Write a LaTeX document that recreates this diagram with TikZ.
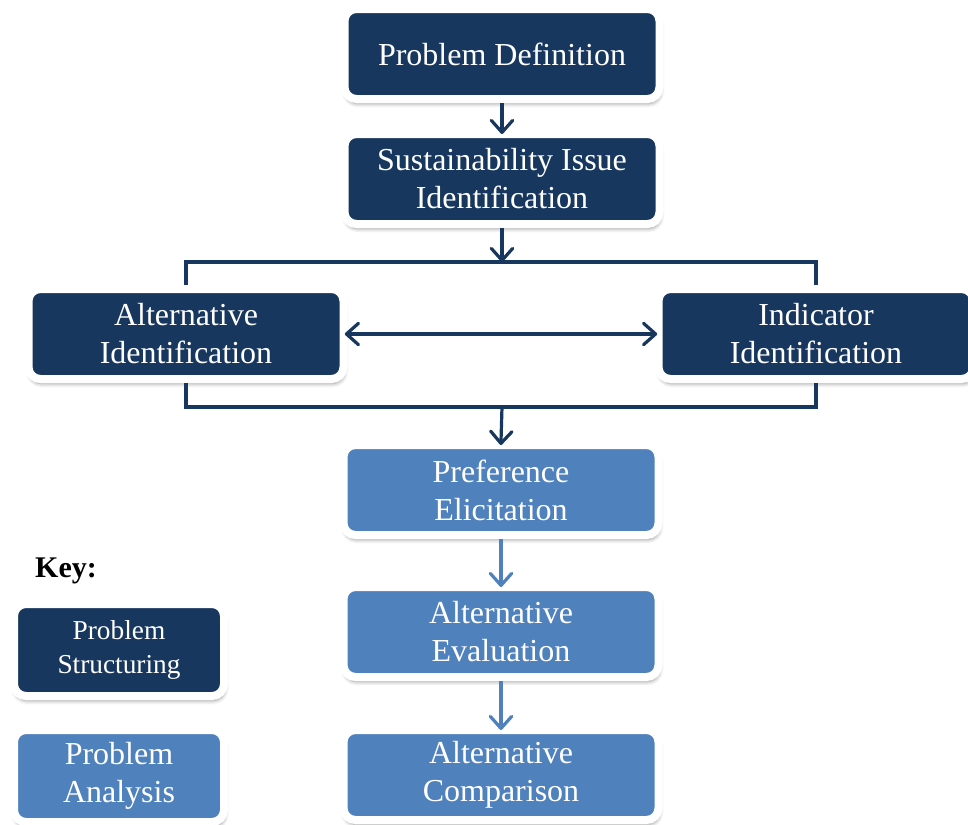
\documentclass[tikz,border=0pt]{standalone}
\usepackage{fontspec}
\setmainfont{Liberation Serif}
\usetikzlibrary{arrows.meta,shadows.blur,calc}
\definecolor{darkbox}{RGB}{23,55,94}
\definecolor{lightbox}{RGB}{79,129,189}
\begin{document}
\begin{tikzpicture}[x=0.75pt,y=-0.75pt,
  box/.style={rounded corners=9pt, draw=white, line width=6pt, text=white, align=center, inner sep=0pt,
    font=\fontsize{24}{28.5}\selectfont,
    blur shadow={shadow xshift=0.8pt, shadow yshift=-3.5pt, shadow blur steps=6, shadow blur radius=3pt, shadow opacity=40}},
  mainbox/.style={box, minimum width=236.25pt, minimum height=67.5pt},
  keybox/.style={box, minimum width=157.5pt, minimum height=69pt},
  dark/.style={fill=darkbox},
  light/.style={fill=lightbox},
  conn/.style={line width=2.4pt, draw=darkbox},
  tip/.style={},
  arr/.style={conn, -{Straight Barb[length=9pt,width=16pt,round]}, shorten >=-3pt},
  biarr/.style={conn, {Straight Barb[length=9pt,width=16pt,round]}-{Straight Barb[length=9pt,width=16pt,round]}, shorten >=-2pt, shorten <=-2pt},
  larr/.style={arr, draw=lightbox},
]
\useasboundingbox (0,0) rectangle (968,825);

\node[mainbox,dark] (pd) at (502,54) {Problem Definition};
\node[mainbox,dark] (sii) at (502,179) {Sustainability Issue\\Identification};
\node[mainbox,dark] (ai) at (186,334) {Alternative\\Identification};
\node[mainbox,dark] (ii) at (816,334) {Indicator\\Identification};
\node[mainbox,light] (pe) at (501,490) {Preference\\Elicitation};
\node[mainbox,light] (ae) at (501,632) {Alternative\\Evaluation};
\node[mainbox,light] (ac) at (501,775) {Alternative\\Comparison};

\node[font=\fontsize{22.5}{26}\selectfont\bfseries] (key) at (66,571) {Key:};
\node[keybox,dark,font=\fontsize{20.5}{25}\selectfont] (ks) at (119,650) {Problem\\Structuring};
\node[keybox,light] (ka) at (119,776) {Problem\\Analysis};

\coordinate (topbar) at (502,262);
\coordinate (botbar) at (502,407);

\draw[arr] (pd.south) -- (sii.north);
\draw[arr, shorten >=0pt] (sii.south) -- (topbar);
\draw[conn] (ai.north) |- (topbar) -| (ii.north);
\draw[biarr] (ai.east) -- (ii.west);
\draw[conn] (ai.south) |- (botbar) -| (ii.south);
\draw[arr] (botbar) -- (pe.north);
\draw[larr] (pe.south) -- (ae.north);
\draw[larr] (ae.south) -- (ac.north);
\end{tikzpicture}
\end{document}
